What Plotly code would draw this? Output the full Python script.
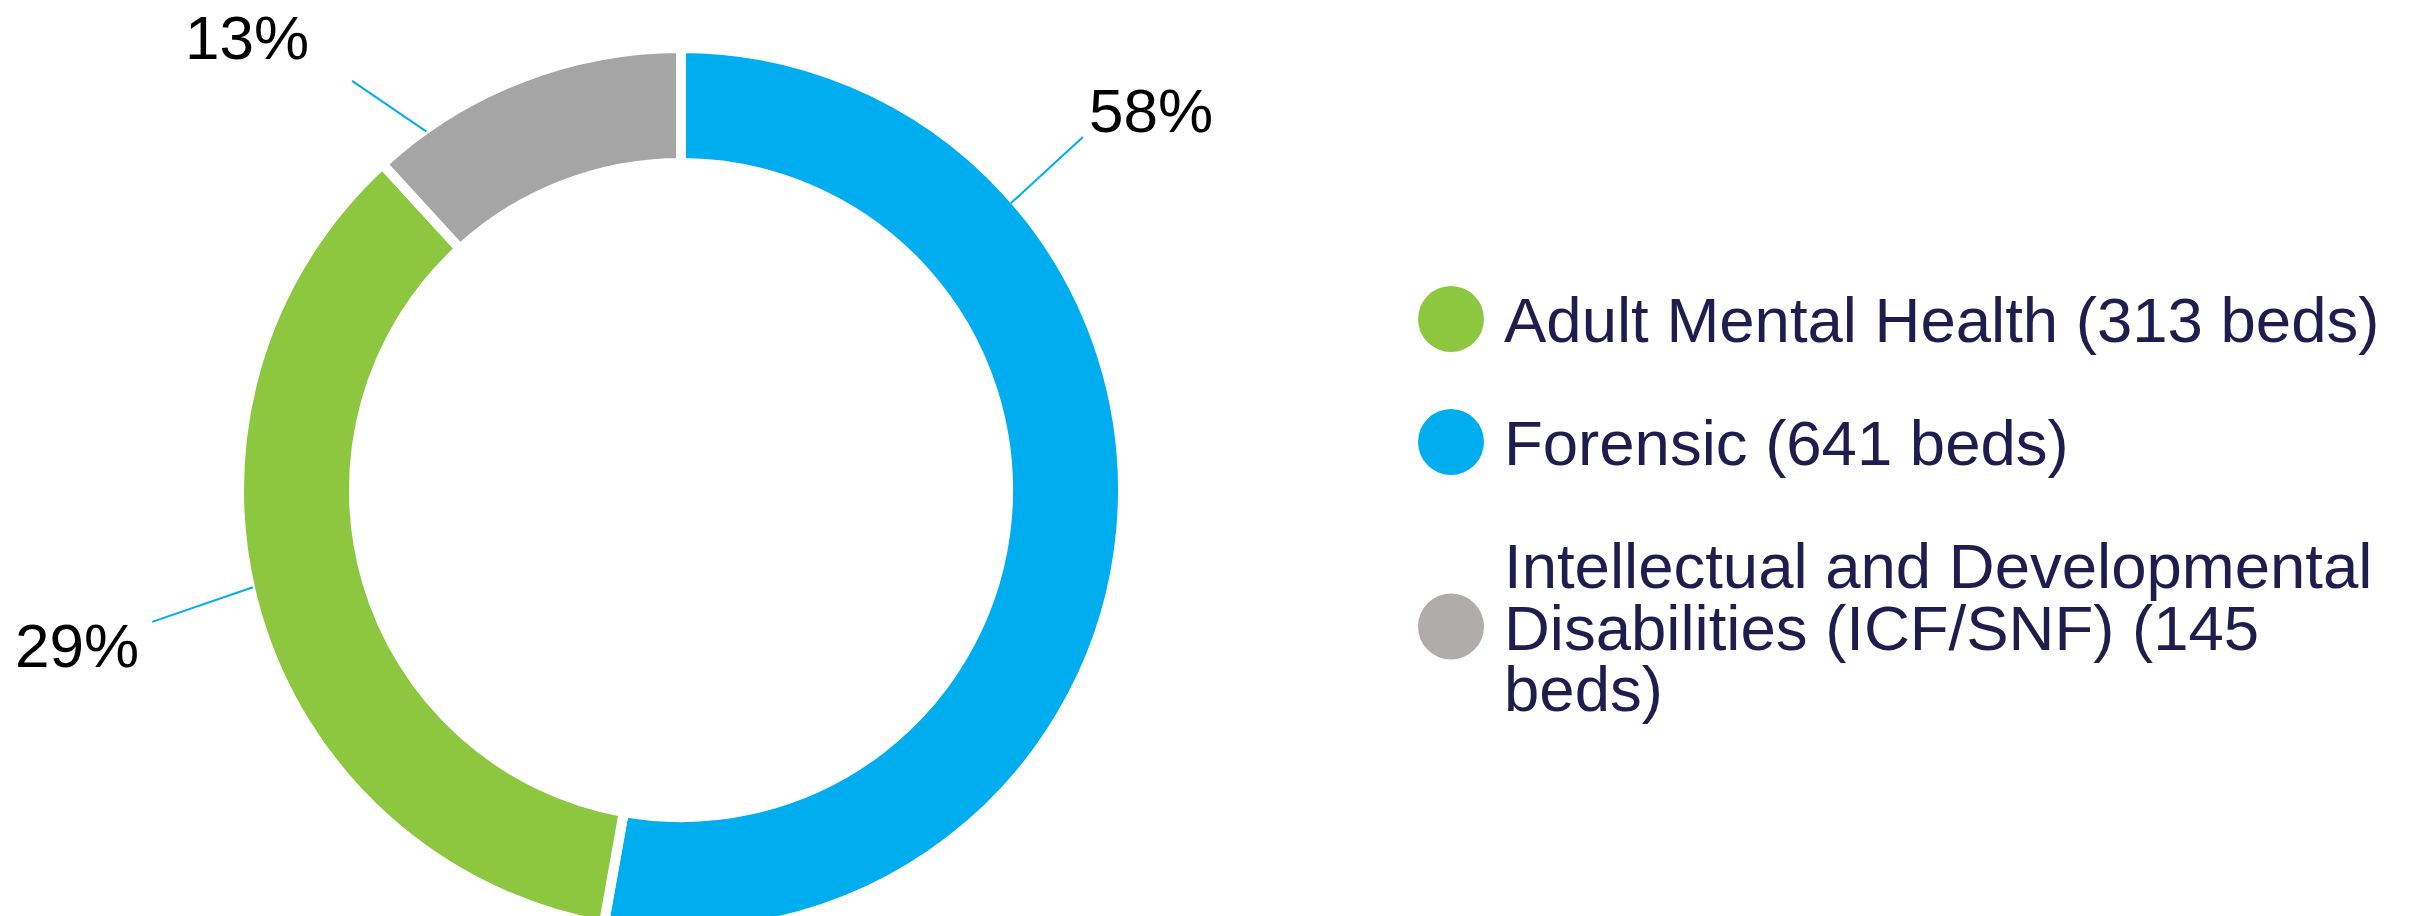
import math
import textwrap
import plotly.graph_objects as go

# ---------------- data ----------------
categories = ["Adult Mental Health", "Forensic",
              "Intellectual and Developmental Disabilities (ICF/SNF)"]
beds = [313, 641, 145]
arc_share = [35.4, 52.8, 11.8]          # slice sizes as drawn in the picture
pct_labels = ["29%", "58%", "13%"]
colors = ["#8DC63F", "#00AEEF", "#A5A5A5"]
legend_colors = ["#8DC63F", "#00AEEF", "#AFACAB"]
pie_order = [1, 0, 2]                   # clockwise from 12 o'clock

# ---------------- layout constants ----------------
W, H = 2418, 924
OFF = 8                    # default page body margin
PCX, PCY = 681, 490        # pie centre in page pixels
R = 442                    # pie radius in pixels
LINE_W = 10
CX, CY = PCX - OFF, PCY - OFF

# label placement (angle clockwise from top in degrees, radius in px)
label_pos = {"58%": (51.1, 604), "29%": (-104.4, 624), "13%": (-43.8, 627)}
leader = {"58%": ((49.0, 437), (48.7, 535)),
          "29%": ((-102.8, 439), (-104.0, 545)),
          "13%": ((-35.4, 440), (-38.8, 525))}


def px(theta, r):
    t = math.radians(theta)
    return CX + r * math.sin(t), CY - r * math.cos(t)


def paper(x, y):
    return x / W, 1 - y / H


fig = go.Figure()
fig.add_trace(go.Pie(
    labels=[categories[i] for i in pie_order],
    values=[arc_share[i] for i in pie_order],
    marker=dict(colors=[colors[i] for i in pie_order],
                line=dict(color="white", width=LINE_W)),
    hole=0.740,
    sort=False,
    direction="clockwise",
    rotation=0,
    textinfo="none",
    hoverinfo="label+value",
    showlegend=False,
    domain=dict(x=[(CX - R) / W, (CX + R) / W], y=[0, 2 * R / H]),
))

annotations = []
shapes = []

# percentage labels and leader lines
for lab in pct_labels:
    th, r = label_pos[lab]
    x, y = paper(*px(th, r))
    annotations.append(dict(x=x, y=y, xref="paper", yref="paper", text=lab,
                            showarrow=False, xanchor="center", yanchor="middle",
                            font=dict(family="Arial, Liberation Sans", size=62,
                                      color="#000000")))
    (t0, r0), (t1, r1) = leader[lab]
    x0, y0 = paper(*px(t0, r0))
    x1, y1 = paper(*px(t1, r1))
    shapes.append(dict(type="line", xref="paper", yref="paper",
                       x0=x0, y0=y0, x1=x1, y1=y1,
                       line=dict(color="#00AEEF", width=2)))

# custom legend (page pixel positions)
LEG_X_CIRCLE = 1451 - OFF
LEG_X_TEXT = 1502 - OFF
LEG_Y0 = 319 - OFF
LINE_STEP = 61.5
ENTRY_GAP = 123
y = LEG_Y0
for cat, b, col in zip(categories, beds, legend_colors):
    lines = textwrap.wrap(f"{cat} ({b} beds)", width=30)
    for i, ln in enumerate(lines):
        xx, yy = paper(LEG_X_TEXT, y + i * LINE_STEP + 1)
        annotations.append(dict(x=xx, y=yy, xref="paper", yref="paper", text=ln,
                                showarrow=False, xanchor="left", yanchor="middle",
                                font=dict(family="Arial, Liberation Sans", size=63.5,
                                          color="#201D4E")))
    cy = y + (len(lines) - 1) * LINE_STEP / 2
    xc, yc = paper(LEG_X_CIRCLE, cy)
    shapes.append(dict(type="circle", xref="paper", yref="paper",
                       xsizemode="pixel", ysizemode="pixel",
                       xanchor=xc, yanchor=yc, x0=-33, x1=33, y0=-33, y1=33,
                       fillcolor=col, line=dict(width=0)))
    y = y + (len(lines) - 1) * LINE_STEP + ENTRY_GAP

fig.update_layout(
    width=W, height=H,
    margin=dict(l=0, r=0, t=0, b=0),
    paper_bgcolor="white", plot_bgcolor="white",
    annotations=annotations, shapes=shapes,
    showlegend=False,
)

fig.write_html("out.html")
